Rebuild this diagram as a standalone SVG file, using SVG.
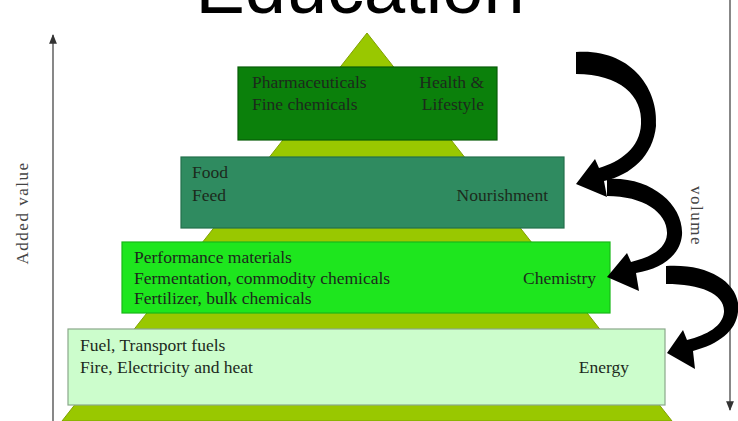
<svg xmlns="http://www.w3.org/2000/svg" width="738" height="421" viewBox="0 0 738 421">
<style>
.t{font-family:"Liberation Serif","Times New Roman",serif;font-size:17.5px;fill:#1c2a1c}
.ax{font-family:"Liberation Serif","Times New Roman",serif;font-size:17px;letter-spacing:1.5px;fill:#444}
.box{stroke-width:1.2}
.arr{fill:#000}
</style>
<defs>
<marker id="ah" viewBox="0 0 10 10" refX="9" refY="5" markerWidth="7" markerHeight="7" orient="auto-start-reverse"><path d="M0,1 L10,5 L0,9 Z" fill="#333"/></marker>
</defs>
<rect width="738" height="421" fill="#fff"/>
<text x="360" y="13" text-anchor="middle" font-family="Liberation Sans, Arial, sans-serif" font-size="74" fill="#000">Education</text>
<g id="axes">
<line x1="53" y1="421" x2="53" y2="35" stroke="#555" stroke-width="1.4" marker-end="url(#ah)"/>
<line x1="730" y1="0" x2="730" y2="410" stroke="#555" stroke-width="1.4" marker-end="url(#ah)"/>
<text class="ax" transform="translate(28,213) rotate(-90)" text-anchor="middle">Added value</text>
<text class="ax" transform="translate(691,216) rotate(90)" text-anchor="middle">volume</text>
</g>
<g id="pyramid">
<polygon points="367,33 672,421 62,421" fill="#99c800" stroke="#7fa000" stroke-width="1"/>
</g>
<g id="n1">
<rect class="box" x="238" y="67" width="259" height="73" fill="#0b800b" stroke="#075c07"/>
<text class="t" x="252" y="88">Pharmaceuticals</text>
<text class="t" x="252" y="110">Fine chemicals</text>
<text class="t" x="484" y="88" text-anchor="end">Health &amp;</text>
<text class="t" x="484" y="110" text-anchor="end">Lifestyle</text>
</g>
<g id="n2">
<rect class="box" x="181" y="157" width="383" height="71" fill="#2f8b60" stroke="#24704c"/>
<text class="t" x="192" y="178">Food</text>
<text class="t" x="192" y="201">Feed</text>
<text class="t" x="548" y="201" text-anchor="end">Nourishment</text>
</g>
<g id="n3">
<rect class="box" x="122" y="242" width="488" height="71" fill="#1ee61e" stroke="#18b818"/>
<text class="t" x="134" y="263">Performance materials</text>
<text class="t" x="134" y="284">Fermentation, commodity chemicals</text>
<text class="t" x="134" y="304">Fertilizer, bulk chemicals</text>
<text class="t" x="596" y="284" text-anchor="end">Chemistry</text>
</g>
<g id="n4">
<rect class="box" x="68" y="329" width="597" height="76" fill="#ccfdcc" stroke="#8aa88a"/>
<text class="t" x="80" y="351">Fuel, Transport fuels</text>
<text class="t" x="80" y="373">Fire, Electricity and heat</text>
<text class="t" x="629" y="373" text-anchor="end">Energy</text>
</g>
<g id="connectors">
<path class="arr" d="M576,52 C630,48 659,88 656,126 C653,156 631,175 604,181 L607,197 L576,184 L595,159 L599,168 C620,162 640,148 641,124 C643,96 620,74 576,74 Z"/>
<path class="arr" d="M607,179 C651,176 684,205 682,235 C680,256 661,269 636,273 L639,291 L607,277 L627,253 L631,262 C651,257 666,249 667,234 C668,213 644,196 607,196 Z"/>
<path class="arr" d="M666,266 C711,263 742,285 738,312 C736,331 719,344 693,351 L695,369 L667,353 L683,330 L687,340 C707,335 723,326 724,312 C725,294 701,284 666,284 Z"/>
</g>
</svg>
